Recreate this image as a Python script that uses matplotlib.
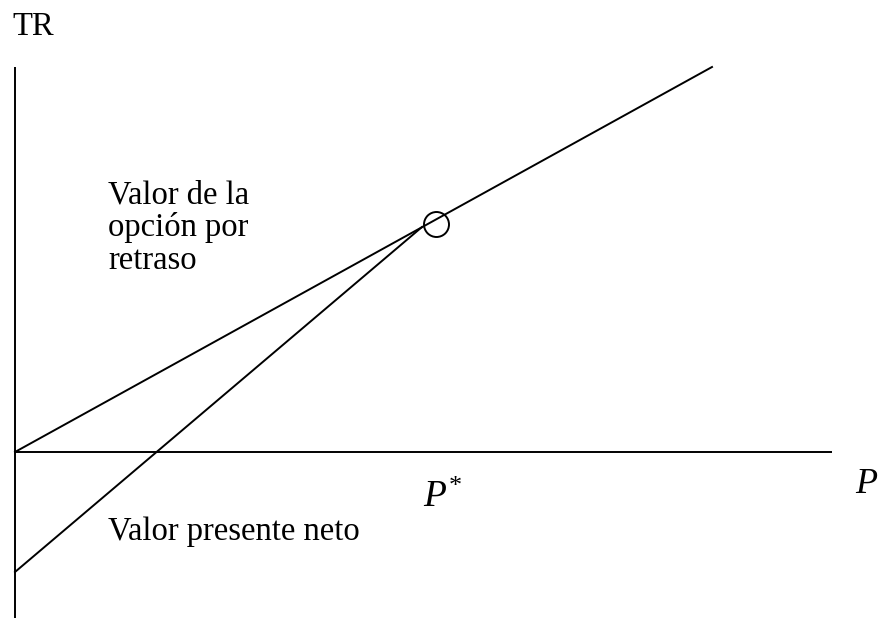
import numpy as np
import matplotlib
matplotlib.use('Agg')
import matplotlib.pyplot as plt

plt.rcParams['font.family'] = ['Liberation Serif', 'DejaVu Serif']
plt.rcParams['mathtext.fontset'] = 'custom'
plt.rcParams['mathtext.it'] = 'Liberation Serif:italic'
plt.rcParams['mathtext.rm'] = 'Liberation Serif'

# coordinates of the sketch (origin where the axes cross, y up)
p_axis = [0, 817]
tr_axis = [-166, 385]

opcion_p = [0, 697]      # valor de la opcion por retraso
opcion_tr = [0, 385]

vpn_p = [0, 407]         # valor presente neto
vpn_tr = [-120, 225]

p_star = 407
p_star_tr = 225

labels_opcion = ['Valor de la', 'opción por', 'retraso']

fig = plt.figure(figsize=(8.79, 6.18), dpi=100)
ax = fig.add_axes([0, 0, 1, 1])
ax.set_xlim(-15, 864)
ax.set_ylim(-166, 452)
ax.axis('off')

lw = 1.4
ax.plot([0, 0], tr_axis, color='black', lw=lw, solid_capstyle='butt')
ax.plot(p_axis, [0, 0], color='black', lw=lw, solid_capstyle='butt')
ax.plot(opcion_p, opcion_tr, color='black', lw=lw)
ax.plot(vpn_p, vpn_tr, color='black', lw=lw)

# circle at the tangency point
ax.plot([p_star + 14], [p_star_tr + 3], 'o', ms=18, mfc='none', mec='black', mew=1.4)

ax.text(-3, 417, 'TR', fontsize=23.5, va='baseline', ha='left')
for i, s in enumerate(labels_opcion):
    ax.text(93, 249 - 33 * i, s, fontsize=23.5, va='baseline', ha='left')
ax.text(93, -88, 'Valor presente neto', fontsize=23.5, va='baseline', ha='left')
ax.text(p_star + 1, -55, r'$P^{*}$', fontsize=27, va='baseline', ha='left')
ax.text(840, -41, r'$P$', fontsize=26, va='baseline', ha='left')

fig.savefig('out.png', dpi=100)
